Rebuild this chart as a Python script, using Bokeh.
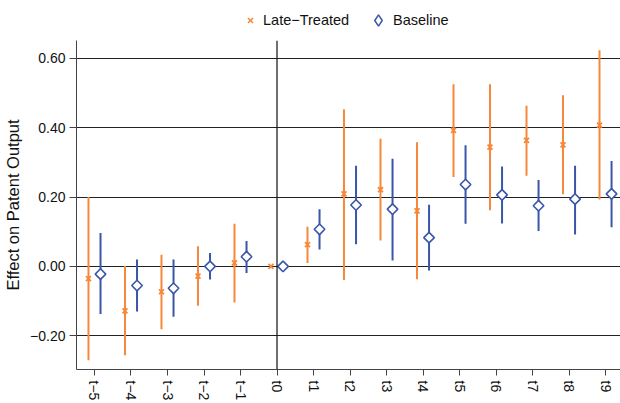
from bokeh.plotting import figure
from bokeh.layouts import column
from bokeh.models import (ColumnDataSource, FixedTicker, Span, Range1d, Legend, LegendItem)
from bokeh.transform import dodge
from bokeh.embed import file_html
from bokeh.resources import INLINE

periods = ["t\u22125", "t\u22124", "t\u22123", "t\u22122", "t\u22121", "t0",
           "t1", "t2", "t3", "t4", "t5", "t6", "t7", "t8", "t9"]

late_est = [-0.035, -0.128, -0.073, -0.028, 0.010, 0.0,
            0.063, 0.209, 0.221, 0.160, 0.392, 0.344, 0.363, 0.350, 0.407]
late_lo = [-0.270, -0.256, -0.181, -0.113, -0.104, 0.0,
           0.010, -0.039, 0.075, -0.037, 0.258, 0.162, 0.261, 0.208, 0.193]
late_hi = [0.200, 0.001, 0.034, 0.058, 0.123, 0.0,
           0.114, 0.453, 0.368, 0.358, 0.525, 0.525, 0.463, 0.493, 0.623]

base_est = [-0.022, -0.055, -0.063, 0.000, 0.028, 0.0,
            0.107, 0.177, 0.165, 0.083, 0.236, 0.206, 0.175, 0.194, 0.209]
base_lo = [-0.137, -0.130, -0.145, -0.038, -0.019, 0.0,
           0.049, 0.064, 0.017, -0.012, 0.123, 0.124, 0.102, 0.092, 0.113]
base_hi = [0.096, 0.020, 0.020, 0.039, 0.073, 0.0,
           0.165, 0.290, 0.310, 0.178, 0.349, 0.288, 0.249, 0.290, 0.304]

y_ticks = [-0.2, 0.0, 0.2, 0.4, 0.6]
y_labels = ["\u22120.20", "0.00", "0.20", "0.40", "0.60"]
series_names = ["Late\u2212Treated", "Baseline"]

ORANGE = "#F5883A"
BLUE = "#3A56A8"
FONT = "Liberation Sans"
TXT = "#111111"
AX = "#444444"

idx = list(range(len(periods)))
src = ColumnDataSource(dict(x=idx, le=late_est, ll=late_lo, lh=late_hi,
                            be=base_est, bl=base_lo, bh=base_hi))

# ---------- main plot ----------
p = figure(width=620, height=367, output_backend="svg", toolbar_location=None,
           x_range=Range1d(-0.493, 14.41), y_range=Range1d(-0.297, 0.651),
           min_border_left=76, min_border_right=0, min_border_top=4,
           min_border_bottom=20, outline_line_color=None)

p.xgrid.visible = False
p.ygrid.grid_line_color = "#222222"
p.ygrid.grid_line_width = 1
p.ygrid.ticker = FixedTicker(ticks=y_ticks)

p.add_layout(Span(location=idx[periods.index("t0")], dimension="height",
                  line_color="#111111", line_width=1.2))

off = 0.165
p.segment(x0=dodge("x", -off), y0="ll", x1=dodge("x", -off), y1="lh", source=src,
          line_color=ORANGE, line_width=2)
p.segment(x0=dodge("x", off), y0="bl", x1=dodge("x", off), y1="bh", source=src,
          line_color=BLUE, line_width=2)

p.scatter(x=dodge("x", -off), y="le", source=src, marker="x", size=7,
          line_color=ORANGE, line_width=1.8)
p.scatter(x=dodge("x", off), y="be", source=src, marker="square", angle=0.7854,
          size=7.5, line_color=BLUE, fill_color="white", line_width=1.6)

p.yaxis.ticker = FixedTicker(ticks=y_ticks)
p.yaxis.major_label_overrides = {t: lab for t, lab in zip(y_ticks, y_labels)}
p.yaxis.axis_label = "Effect on Patent Output"
p.yaxis.axis_label_text_font = FONT
p.yaxis.axis_label_text_font_style = "normal"
p.yaxis.axis_label_text_font_size = "16.5px"
p.yaxis.axis_label_text_color = TXT
p.yaxis.axis_label_standoff = 5
p.yaxis.major_label_text_font = FONT
p.yaxis.major_label_text_font_size = "14px"
p.yaxis.major_label_text_color = TXT
p.yaxis.major_label_standoff = 4
p.yaxis.minor_tick_line_color = None
p.yaxis.major_tick_out = 7
p.yaxis.major_tick_in = 0
p.yaxis.axis_line_color = AX
p.yaxis.major_tick_line_color = AX

p.xaxis.ticker = FixedTicker(ticks=idx)
p.xaxis.major_label_overrides = {i: lab for i, lab in zip(idx, periods)}
p.xaxis.major_label_orientation = "vertical"
p.xaxis.major_label_text_font = FONT
p.xaxis.major_label_text_font_size = "14px"
p.xaxis.major_label_text_color = TXT
p.xaxis.major_label_standoff = 5
p.xaxis.minor_tick_line_color = None
p.xaxis.major_tick_out = 6
p.xaxis.major_tick_in = 0
p.xaxis.axis_line_color = AX
p.xaxis.major_tick_line_color = AX

# ---------- legend strip (proxy glyphs use the same data, outside the visible range) ----------
lf = figure(width=620, height=36, output_backend="svg", toolbar_location=None,
            x_range=Range1d(100, 101), y_range=Range1d(100, 101), x_axis_type=None,
            y_axis_type=None, min_border=0, min_border_left=76,
            outline_line_color=None)
g_late = lf.scatter(x="x", y="le", source=src, marker="x", line_color=ORANGE,
                    line_width=1.6)
g_base = lf.scatter(x="x", y="be", source=src, marker="diamond", line_color=BLUE,
                    fill_color="white", line_width=1.5)

common = dict(orientation="horizontal", border_line_color=None,
              background_fill_alpha=0, label_text_font=FONT,
              label_text_font_size="14.5px", label_text_color=TXT,
              padding=0, margin=0, spacing=0)
leg1 = Legend(items=[LegendItem(label=series_names[0], renderers=[g_late], index=0)],
              location=(241 - 76, 7), glyph_width=18, glyph_height=18,
              label_standoff=4, **common)
leg2 = Legend(items=[LegendItem(label=series_names[1], renderers=[g_base], index=0)],
              location=(364 - 76, 2), glyph_width=28, glyph_height=28,
              label_standoff=1, **common)
lf.add_layout(leg1)
lf.add_layout(leg2)

layout = column(lf, p, spacing=0)
open("out.html", "w").write(file_html(layout, INLINE))
